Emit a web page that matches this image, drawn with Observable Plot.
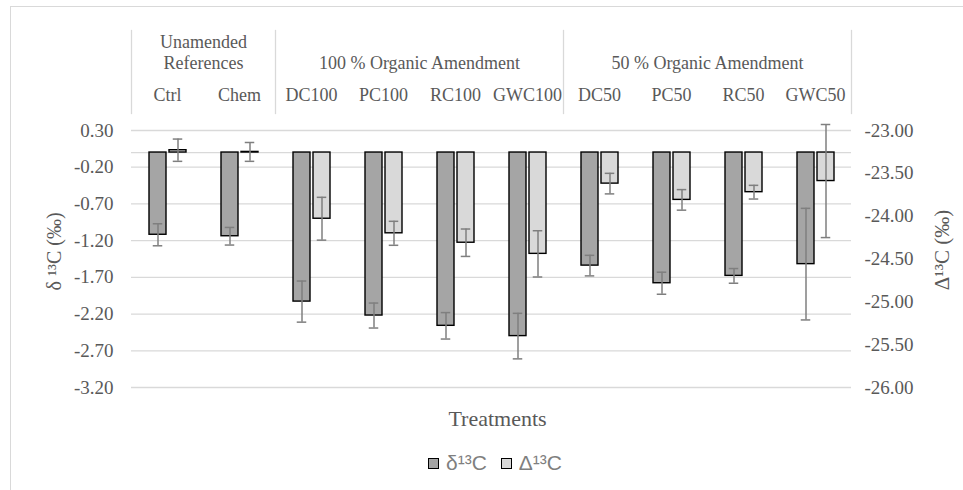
<!DOCTYPE html>
<html>
<head>
<meta charset="utf-8">
<script src="https://cdn.jsdelivr.net/npm/d3@7"></script>
<script src="https://cdn.jsdelivr.net/npm/@observablehq/plot@0.6"></script>
<style>
  html, body { margin: 0; padding: 0; overflow: hidden; background: #fff; }
  #wrap { position: relative; width: 963px; height: 490px; overflow: hidden; }
  #border { position: absolute; left: 10px; top: 6px; width: 1000px; height: 600px;
            border-left: 1.5px solid #d9d9d9; border-top: 1.5px solid #d9d9d9; }
  #chart { position: absolute; left: 0; top: 0; }
  #xlabel { position: absolute; left: 0; width: 995px; top: 408px; text-align: center;
            font: 22px "Liberation Serif", serif; line-height: 22px; color: #595959; }
  #legend { position: absolute; left: 0; width: 990px; top: 451px; height: 24px;
            display: flex; justify-content: center; align-items: center;
            font: 21px "Liberation Sans", sans-serif; color: #7f7f7f; }
  .sw { width: 9px; height: 9px; border: 1.5px solid #000; margin-right: 7px; }
  .item { display: flex; align-items: center; margin: 0 7px; }
</style>
</head>
<body>
<div id="wrap">
  <div id="border"></div>
  <div id="chart"></div>
  <div id="xlabel">Treatments</div>
  <div id="legend"></div>
</div>
<script>
// ---- data ----
const categories = ["Ctrl", "Chem", "DC100", "PC100", "RC100", "GWC100", "DC50", "PC50", "RC50", "GWC50"];
const groupNames = ["Unamended\nReferences", "100 % Organic Amendment", "50 % Organic Amendment"];
const groupMembers = [["Ctrl", "Chem"], ["DC100", "PC100", "RC100", "GWC100"], ["DC50", "PC50", "RC50", "GWC50"]];
const seriesNames = ["δ¹³C", "Δ¹³C"];
const seriesColors = ["#a5a5a5", "#d9d9d9"];
// primary axis series (δ13C, ‰)
const delta13C    = [-1.12, -1.14, -2.03, -2.22, -2.36, -2.50, -1.54, -1.78, -1.68, -1.52];
const delta13CErr = [0.15, 0.12, 0.28, 0.17, 0.18, 0.31, 0.14, 0.15, 0.10, 0.76];
// secondary axis series (Δ13C, ‰)
const Delta13C    = [-23.23, -23.25, -24.03, -24.20, -24.31, -24.44, -23.62, -23.81, -23.72, -23.59];
const Delta13CErr = [0.13, 0.11, 0.25, 0.14, 0.16, 0.27, 0.12, 0.12, 0.08, 0.66];
const leftTicks  = [0.30, -0.20, -0.70, -1.20, -1.70, -2.20, -2.70, -3.20];
const rightTicks = [-23.00, -23.50, -24.00, -24.50, -25.00, -25.50, -26.00];
const leftDomain = [-3.20, 0.30];
const rightDomain = [-26.00, -23.00];
const leftTitle = "δ ¹³C (‰)";
const rightTitle = "Δ¹³C (‰)";

// secondary axis mapped onto the primary one (both span the same plot height)
const toLeft = d3.scaleLinear().domain(rightDomain).range(leftDomain);

// ---- table ----
const rows = [];
categories.forEach((c, i) => {
  const a = delta13C[i], ea = delta13CErr[i];
  rows.push({cat: c, series: seriesNames[0], yv: a, lo: a - ea, hi: a + ea});
  const b = Delta13C[i], eb = Delta13CErr[i];
  rows.push({cat: c, series: seriesNames[1], yv: toLeft(b), lo: toLeft(b - eb), hi: toLeft(b + eb)});
});
const groups = groupNames.map((name, i) => ({name, members: groupMembers[i]}));

const gridColor = "#d9d9d9";
const errColor = "#7f7f7f";
const capInset = 3.75;

const marks = [
  Plot.gridY(leftTicks, {stroke: gridColor, strokeOpacity: 1, strokeWidth: 1.3}),
  Plot.ruleY([0], {stroke: gridColor, strokeWidth: 1.3}),
  // group separators in the header
  ...groups.map(g => Plot.frame({anchor: "left", fx: () => g.members[0], stroke: gridColor, strokeWidth: 1.3, insetBottom: 274})),
  Plot.frame({anchor: "right", fx: () => groups[groups.length - 1].members.at(-1), stroke: gridColor, strokeWidth: 1.3, insetBottom: 274}),
  Plot.barY(rows, {fx: "cat", x: "series", y: "yv", fill: "series", stroke: "#000", strokeWidth: 1.4}),
  Plot.ruleX(rows, {fx: "cat", x: "series", y1: "lo", y2: "hi", stroke: errColor, strokeWidth: 1.5}),
  Plot.tickY(rows, {fx: "cat", x: "series", y: "lo", stroke: errColor, strokeWidth: 1.5, insetLeft: capInset, insetRight: capInset}),
  Plot.tickY(rows, {fx: "cat", x: "series", y: "hi", stroke: errColor, strokeWidth: 1.5, insetLeft: capInset, insetRight: capInset}),
  Plot.axisY(leftTicks, {anchor: "left", tickSize: 0, tickPadding: 18, tickFormat: d => d.toFixed(2), label: null, fontSize: 19}),
  Plot.axisY(rightTicks.map(toLeft), {anchor: "right", tickSize: 0, tickPadding: 13,
    tickFormat: d => toLeft.invert(d).toFixed(2), label: null, fontSize: 19}),
  // header: category labels and group labels
  Plot.text(categories, {fx: d => d, text: d => d, frameAnchor: "top", dy: 70, lineAnchor: "bottom", textAnchor: "middle", fontSize: 18}),
  Plot.text(groups, {fx: g => g.members[g.members.length / 2 - 1], text: g => g.name, frameAnchor: "top-right",
    textAnchor: "middle", lineAnchor: "bottom", lineHeight: 1.13, dy: 38.3, fontSize: 18}),
  // axis titles
  Plot.text([leftTitle], {fx: () => categories[0], text: d => d, frameAnchor: "left", dx: -77, dy: 42.5, rotate: -90,
    textAnchor: "middle", lineAnchor: "middle", fontSize: 20}),
  Plot.text([rightTitle], {fx: () => categories[categories.length - 1], text: d => d, frameAnchor: "right", dx: 91, dy: 41, rotate: -90,
    textAnchor: "middle", lineAnchor: "middle", fontSize: 21})
];

const chart = Plot.plot({
  width: 963,
  height: 395,
  marginLeft: 130,
  marginRight: 111,
  marginTop: 30,
  marginBottom: 8,
  fx: {domain: categories, padding: 0, axis: null},
  x: {domain: seriesNames, paddingInner: 0.17, paddingOuter: 0.8, axis: null},
  y: {domain: leftDomain, insetTop: 100},
  color: {domain: seriesNames, range: seriesColors},
  style: {fontFamily: '"Liberation Serif", serif', fontSize: "18px", color: "#595959", background: "transparent", overflow: "visible"},
  marks
});
document.getElementById("chart").appendChild(chart);

// legend
const legend = document.getElementById("legend");
seriesNames.forEach((s, i) => {
  const item = document.createElement("div");
  item.className = "item";
  const sw = document.createElement("div");
  sw.className = "sw";
  sw.style.background = seriesColors[i];
  const t = document.createElement("span");
  t.textContent = s;
  item.appendChild(sw);
  item.appendChild(t);
  legend.appendChild(item);
});
</script>
</body>
</html>
